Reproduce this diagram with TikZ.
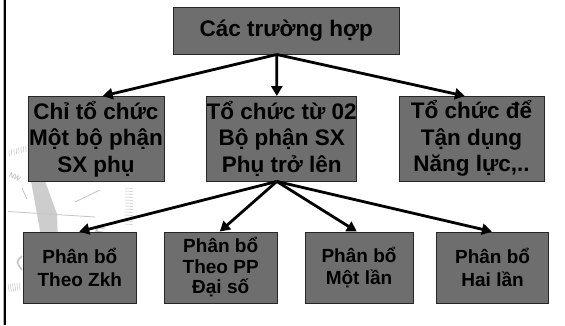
\documentclass[tikz,border=0pt]{standalone}
\usepackage{fontspec}
\setmainfont{Liberation Sans}
\usetikzlibrary{arrows.meta,calc}
\definecolor{boxgray}{HTML}{6E6E6E}
\definecolor{markgray}{HTML}{C4C4C4}
\tikzset{
  box/.style={draw=black!85, line width=0.9pt, fill=boxgray, inner sep=0pt,
    align=center, text=black},
  bigtext/.style={font=\fontsize{22.5}{26.5}\selectfont\bfseries},
  smalltext/.style={font=\fontsize{19}{22.5}\selectfont\bfseries},
  link/.style={line width=2.8pt, -{Triangle[length=10pt,width=11pt]}},
  wmark/.style={draw=markgray, line width=0.8pt}
}
\begin{document}
\begin{tikzpicture}[x=1pt,y=-1pt]
\useasboundingbox (0,0) rectangle (565,325);
\fill[white] (0,0) rectangle (565,325);

% faint compass rose in the background
\fill[markgray!85] (31,181) -- (45,181) -- (57,214) -- (58,242) -- (42,242) -- (37,214) -- cycle;
\draw[wmark] (8,211.5) -- (95,217);
\draw[wmark] (75,202) -- (100,190);
\draw[wmark] (22,188) -- (27,199);
\foreach \i in {0,...,7}{
  \draw[wmark, line width=0.5pt] ($(9,150)+(\i*2.4,-\i*0.6)$) -- ++(0.4,6);
}
\foreach \i in {0,...,12}{
  \draw[wmark, line width=0.5pt] ($(125,188)+(0,\i*3)$) -- ++(8,0.4);
}
\foreach \i in {0,...,5}{
  \draw[wmark, line width=0.5pt] ($(8,284)+(\i*2.2,-\i*0.3)$) -- ++(1.2,8);
}
\node[text=markgray, inner sep=0pt, font=\fontsize{7}{7}\selectfont\bfseries, rotate=-30] (nw) at (15,177) {NW};
\node[text=markgray!90, inner sep=0pt, font=\fontsize{15}{15}\selectfont\bfseries\itshape, rotate=-10] (east) at (99,232) {E};
\draw[wmark, line width=1.6pt] (22,256) .. controls (16,262) .. (22,270);

% left rule
\draw[black, line width=2.4pt] (5,0) -- (5,325);
\draw[gray!60, line width=0.6pt] (3.5,0) -- (3.5,325);

% boxes
\node[box, bigtext, minimum width=225.3pt, minimum height=46.7pt] (top) at (286.3,30.7) {Các trường hợp};

\node[box, bigtext, minimum width=136pt, minimum height=84.5pt] (m1) at (96,138.75) {Chỉ tổ chức\\Một bộ phận\\SX phụ};
\node[box, bigtext, minimum width=150.3pt, minimum height=84.5pt] (m2) at (281.65,138.75) {Tổ chức từ 02\\Bộ phận SX\\Phụ trở lên};
\node[box, bigtext, minimum width=145pt, minimum height=84.5pt] (m3) at (471.5,138.75) {Tổ chức để\\Tận dụng\\Năng lực,..};

\node[box, smalltext, minimum width=112.8pt, minimum height=71pt] (b1) at (79.8,267.5) {Phân bổ\\Theo Zkh};
\node[box, font=\fontsize{19}{20.5}\selectfont\bfseries, minimum width=112.8pt, minimum height=71pt] (b2) at (220.7,267.5) {Phân bổ\\Theo PP\\Đại số};
\node[box, smalltext, minimum width=108pt, minimum height=71pt] (b3) at (359,267.5) {Phân bổ\\Một lần};
\node[box, smalltext, minimum width=112.4pt, minimum height=71pt] (b4) at (492.6,267.5) {Phân bổ\\Hai lần};

% connectors
\coordinate (tsrc) at ($(top.south)+(-9.5,0)$);
\coordinate (msrc) at ($(m2.south)+(-4.85,0)$);
\draw[link] (tsrc) -- ($(m1.north)+(6.7,0)$);
\draw[link] (tsrc) -- ($(m2.north)+(-4.85,0)$);
\draw[link] (tsrc) -- ($(m3.north)+(-6.6,0)$);
\draw[link] (msrc) -- ($(b1.north)+(-0.5,0)$);
\draw[link] (msrc) -- ($(b2.north)+(-0.9,0)$);
\draw[link] (msrc) -- ($(b3.north)+(-2.2,0)$);
\draw[link] (msrc) -- ($(b4.north)+(-0.7,0)$);
\end{tikzpicture}
\end{document}
